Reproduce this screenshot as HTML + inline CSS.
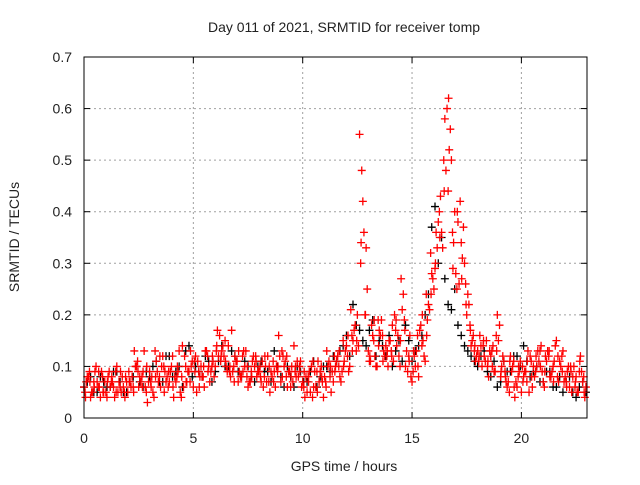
<!DOCTYPE html>
<html><head><meta charset="utf-8"><style>
body{margin:0;background:#fff;}
svg text{font-family:"Liberation Sans",sans-serif;font-size:14px;fill:#222;}
</style></head><body>
<svg id="chart" width="640" height="480" viewBox="0 0 640 480" xmlns="http://www.w3.org/2000/svg">
<rect width="640" height="480" fill="#fff"/>
<g id="grid"></g>
<g id="axes"></g>
<g id="pts"></g>
<rect x="84" y="57" width="503" height="361" fill="none" stroke="#000" stroke-width="1"/>
<text x="344" y="32" text-anchor="middle">Day 011 of 2021, SRMTID for receiver tomp</text>
<text x="344" y="471" text-anchor="middle">GPS time / hours</text>
<text transform="translate(19,237) rotate(-90)" text-anchor="middle">SRMTID / TECUs</text>
</svg>
<script>
const xTicks=[0,5,10,15,20];
const yTicks=[0,0.1,0.2,0.3,0.4,0.5,0.6,0.7];
const yTickLabels=["0","0.1","0.2","0.3","0.4","0.5","0.6","0.7"];
const redStepHour=0.2;
const redAStart=0.0;
const redA=[.06,.08,.05,.07,.09,.05,.06,.04,.07,.06,
.05,.08,.10,.07,.06,.09,.04,.07,.12,.08,
.10,.07,.05,.12,.09,.06,.11,.08,.13,.09,
.10,.16,.12,.14,.09,.11,.08,.13,.07,.10,
.09,.06,.12,.08,.10,.07,.11,.09,.14,.08,
.07,.05,.10,.06,.09,.08,.11,.07,.12,.09,
.14,.21,.18,.55,.36,.13,.16,.10,.19,.14,
.15,.20,.12,.24,.09,.07,.13,.18,.11,.21,
.25,.38,.33,.60,.50,.28,.42,.30,.22,.16,
.13,.10,.15,.12,.09,.18,.11,.07,.10,.06,
.05,.09,.12,.08,.11,.07,.13,.09,.15,.10,
.08,.06,.10,.05,.07];
const redBStart=0.1;
const redB=[.07,.04,.09,.06,.05,.08,.07,.10,.05,.08,
.07,.13,.06,.09,.03,.08,.11,.06,.09,.07,
.04,.09,.14,.07,.10,.12,.08,.06,.10,.11,
.17,.13,.10,.08,.12,.09,.13,.06,.11,.08,
.07,.10,.05,.09,.16,.12,.06,.10,.08,.11,
.04,.09,.06,.11,.07,.13,.05,.10,.08,.11,
.09,.15,.20,.48,.33,.11,.12,.17,.13,.10,
.18,.14,.27,.10,.16,.12,.08,.15,.19,.28,
.36,.43,.58,.52,.34,.38,.31,.20,.14,.11,
.16,.12,.08,.14,.20,.10,.07,.12,.04,.09,
.08,.13,.06,.10,.14,.12,.08,.11,.07,.13,
.09,.05,.08,.12,.04];
const redCStart=0.05;
const redC=[.05,.09,.07,.06,.08,.04,.07,.09,.06,.05,
.09,.06,.11,.08,.05,.07,.13,.08,.10,.06,
.12,.08,.04,.10,.07,.11,.09,.08,.12,.10,
.13,.11,.15,.09,.10,.07,.12,.08,.09,.12,
.10,.08,.07,.11,.09,.13,.08,.06,.09,.10,
.06,.08,.04,.09,.10,.07,.08,.12,.10,.15,
.12,.16,.13,.30,.20,.11,.15,.19,.16,.12,
.13,.17,.10,.19,.12,.09,.16,.14,.24,.32,
.29,.40,.50,.44,.36,.25,.34,.26,.18,.13,
.11,.14,.10,.13,.16,.08,.09,.05,.11,.08,
.10,.07,.11,.09,.13,.06,.12,.10,.08,.12,
.07,.10,.06,.09,.08];
const redDStart=0.15;
const redD=[.08,.05,.10,.04,.07,.09,.06,.05,.08,.07,
.06,.10,.08,.13,.07,.05,.09,.10,.07,.09,
.08,.13,.06,.09,.11,.05,.10,.13,.07,.08,
.12,.14,.09,.17,.11,.08,.10,.07,.12,.09,
.11,.07,.09,.06,.12,.10,.09,.07,.11,.06,
.08,.05,.09,.07,.04,.10,.09,.11,.07,.13,
.10,.17,.14,.42,.25,.18,.10,.16,.12,.15,
.11,.16,.21,.13,.08,.10,.17,.12,.22,.27,
.33,.36,.48,.56,.40,.26,.37,.24,.15,.12,
.14,.11,.13,.09,.15,.12,.06,.09,.07,.11,
.09,.05,.10,.13,.09,.11,.08,.14,.11,.07,
.10,.08,.05,.09,.06];
const redEStart=0.07;
const redE=[.04,.07,.06,.09,.05,.07,.08,.05,.09,.04,
.07,.05,.09,.06,.10,.06,.08,.12,.05,.09,
.06,.10,.08,.07,.13,.09,.06,.10,.09,.12,
.14,.12,.11,.10,.07,.13,.09,.10,.08,.11,
.08,.12,.10,.07,.10,.08,.12,.08,.10,.09,
.09,.07,.11,.05,.08,.06,.10,.09,.13,.10,
.16,.13,.15,.34,.20,.12,.19,.14,.11,.13,
.12,.19,.15,.17,.11,.13,.10,.20,.16,.24,
.30,.35,.44,.62,.29,.40,.27,.22,.17,.14,
.12,.15,.11,.10,.13,.09,.08,.11,.06,.10,
.07,.11,.08,.12,.10,.09,.13,.07,.12,.09,
.06,.09,.07,.11,.05];
const blackStepHour=0.3;
const blackStart=0.0;
const black=[.06,.08,.05,.07,.06,.09,.05,.07,.10,.06,
.08,.11,.07,.12,.09,.06,.14,.10,.08,.11,
.09,.14,.10,.12,.08,.10,.07,.11,.09,.13,
.08,.10,.06,.09,.07,.11,.08,.10,.12,.13,
.16,.22,.17,.14,.19,.15,.12,.10,.15,.18,
.11,.14,.20,.37,.30,.27,.21,.18,.14,.12,
.10,.13,.08,.06,.11,.09,.12,.14,.08,.10,
.07,.09,.06,.05,.08,.04,.07];
const blackBStart=0.15;
const blackB=[.07,.05,.08,.06,.09,.07,.05,.08,.07,.09,
.10,.07,.12,.08,.10,.13,.08,.09,.12,.07,
.11,.10,.13,.09,.11,.08,.10,.09,.07,.10,
.06,.08,.10,.07,.09,.06,.10,.09,.11,.14,
.12,.18,.15,.17,.12,.14,.16,.13,.11,.15,
.13,.16,.24,.41,.35,.22,.25,.16,.13,.11,
.12,.09,.11,.07,.09,.12,.10,.11,.09,.07,
.09,.06,.08,.07,.05,.06,.05];

const X0=84,X1=587,Y0=418,Y1=57,XMAX=23,YMAX=0.7;
const sx=v=>X0+(v/XMAX)*(X1-X0);
const sy=v=>Y0-(v/YMAX)*(Y0-Y1);
const NS="http://www.w3.org/2000/svg";
const grid=document.getElementById('grid'),axes=document.getElementById('axes'),pts=document.getElementById('pts');
function mk(tag,attrs,parent){const e=document.createElementNS(NS,tag);for(const k in attrs)e.setAttribute(k,attrs[k]);parent.appendChild(e);return e;}
xTicks.forEach(t=>{
  const x=sx(t);
  if(t>0){const g=mk('line',{x1:x,y1:Y1,x2:x,y2:Y0,stroke:'#a0a0a0','stroke-dasharray':'2,3'},grid);
  
  }
  mk('line',{x1:x,y1:Y0,x2:x,y2:Y0-6,stroke:'#000'},axes);
  mk('line',{x1:x,y1:Y1,x2:x,y2:Y1+6,stroke:'#000'},axes);
  const l=mk('text',{x:x,y:443,'text-anchor':'middle'},axes);l.textContent=t;
  
  
});
yTicks.forEach((t,i)=>{
  const y=sy(t);
  if(t>0&&t<0.7){const g=mk('line',{x1:X0,y1:y,x2:X1,y2:y,stroke:'#a0a0a0','stroke-dasharray':'2,3'},grid);
  
  }
  mk('line',{x1:X0,y1:y,x2:X0+6,y2:y,stroke:'#000'},axes);
  mk('line',{x1:X1,y1:y,x2:X1-6,y2:y,stroke:'#000'},axes);
  const l=mk('text',{x:72,y:y+5,'text-anchor':'end'},axes);l.textContent=yTickLabels[i];
  
  
});
function plotSeries(vals,start,step,color,name){
  let d='';
  vals.forEach((v,i)=>{const x=sx(start+i*step),y=sy(v);d+=`M${x-4},${y}h8M${x},${y-4}v8`;});
  const p=mk('path',{d:d,stroke:color,'stroke-width':1.3,fill:'none'},pts);
  
  
}
plotSeries(black,blackStart,blackStepHour,'#000','black-series-a');
plotSeries(blackB,blackBStart,blackStepHour,'#000','black-series-b');
plotSeries(redA,redAStart,redStepHour,'#ff0000','red-series-a');
plotSeries(redB,redBStart,redStepHour,'#ff0000','red-series-b');
plotSeries(redC,redCStart,redStepHour,'#ff0000','red-series-c');
plotSeries(redD,redDStart,redStepHour,'#ff0000','red-series-d');
plotSeries(redE,redEStart,redStepHour,'#ff0000','red-series-e');
</script>
</body></html>
